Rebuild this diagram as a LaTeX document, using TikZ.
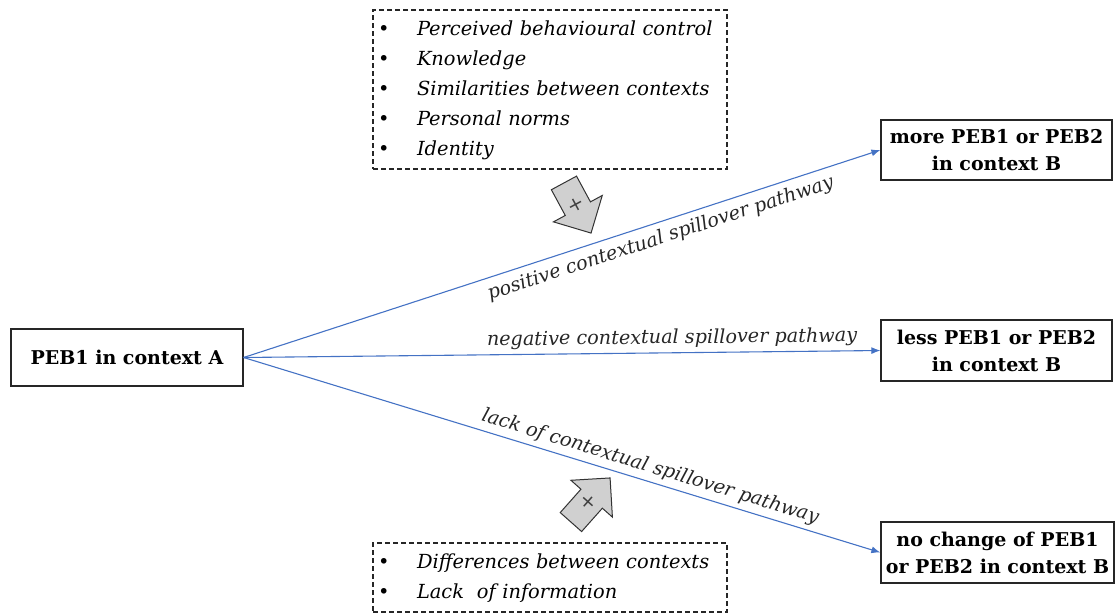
\documentclass[tikz,border=0pt]{standalone}
\usepackage{fontspec}
\setmainfont{DejaVu Serif}
\usetikzlibrary{arrows.meta}
\definecolor{lineblue}{HTML}{4472C4}
\definecolor{arrowgray}{HTML}{D0D0D0}
\begin{document}
\begin{tikzpicture}[x=1pt,y=-1pt,
  solidbox/.style={draw=black!85, line width=1.2pt, minimum width=231pt, minimum height=60pt,
    align=center, font=\bfseries\fontsize{19}{27}\selectfont, inner sep=0pt},
  dashbox/.style={draw=black!85, line width=1.1pt, dash pattern=on 5pt off 3pt,
    text width=344pt, inner xsep=5pt, align=left, font=\itshape\fontsize{19.4}{30}\selectfont},
  flow/.style={draw=lineblue, line width=1.1pt, -{Latex[length=9pt,width=7pt]}},
  pathlabel/.style={font=\itshape\fontsize{19.2}{28}\selectfont, sloped, text=black!85},
  blockarrow/.style={draw=black!80, fill=arrowgray, line width=1pt, line join=miter},
  plussign/.style={font=\fontsize{20}{20}\selectfont, text=black!75, inner sep=0pt}]
\useasboundingbox (0,0) rectangle (1117,614);

\node[solidbox, minimum width=232pt, minimum height=57pt] (a) at (127,357.5) {PEB1 in context A};
\node[solidbox] (b1) at (996.5,150) {more PEB1 or PEB2\\in context B};
\node[solidbox, minimum height=61pt] (b2) at (996.5,350.5) {less PEB1 or PEB2\\in context B};
\node[solidbox, minimum width=233pt, minimum height=61pt] (b3) at (997.5,552.5) {no change of PEB1\\or PEB2 in context B};

\node[dashbox, minimum height=159pt] (top) at (550,89.5) {%
\begin{tabular}{@{}p{39pt}@{}l@{}}
\upshape\textbullet & Perceived behavioural control\\
\upshape\textbullet & Knowledge\\
\upshape\textbullet & Similarities between contexts\\
\upshape\textbullet & Personal norms\\
\upshape\textbullet & Identity
\end{tabular}};

\node[dashbox, minimum height=69pt] (bot) at (550,577.5) {%
\begin{tabular}{@{}p{39pt}@{}l@{}}
\upshape\textbullet & Differences between contexts\\
\upshape\textbullet & Lack\ \ of information
\end{tabular}};

\draw[flow] (a.east) -- node[pathlabel, pos=0.647, below=3pt] (l1) {positive contextual spillover pathway} (b1.west);
\draw[flow] (a.east) -- node[pathlabel, pos=0.673, above=1pt] (l2) {negative contextual spillover pathway} (b2.west);
\draw[flow] (a.east) -- node[pathlabel, pos=0.632, above=1pt] (l3) {lack of contextual spillover pathway} (b3.west);

\begin{scope}[shift={(577.5,208)}, rotate=-61.6]
  \draw[blockarrow] (-28.5,-14.3) -- (0.75,-14.3) -- (0.75,-27.75) -- (28.5,0) -- (0.75,27.75) -- (0.75,14.3) -- (-28.5,14.3) -- cycle;
  \node[plussign, rotate=-61.6] (p1) at (-3,0) {+};
\end{scope}
\begin{scope}[shift={(590.5,500)}, rotate=48.4]
  \draw[blockarrow] (-29.5,-14.3) -- (1.75,-14.3) -- (1.75,-27.75) -- (29.5,0) -- (1.75,27.75) -- (1.75,14.3) -- (-29.5,14.3) -- cycle;
  \node[plussign, rotate=48.4] (p2) at (-3,0) {+};
\end{scope}
\end{tikzpicture}
\end{document}
